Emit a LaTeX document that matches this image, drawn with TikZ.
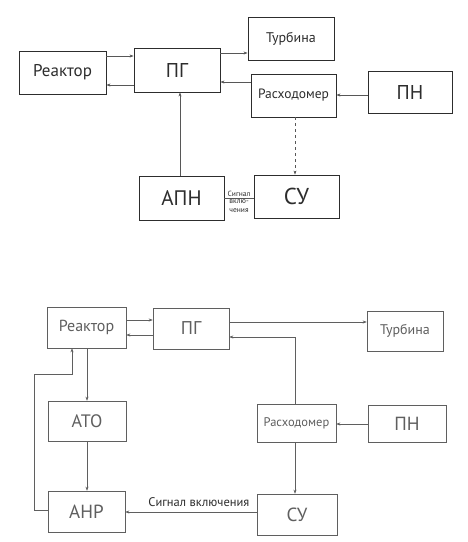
\documentclass[tikz,border=0pt]{standalone}
\usepackage{fontspec}
\setmainfont{PT Sans}
\usetikzlibrary{arrows.meta}
\definecolor{ink}{RGB}{45,45,45}
\definecolor{inkb}{RGB}{95,95,95}
\newcommand{\fs}[1]{\fontsize{#1}{#1}\selectfont}
\begin{document}
\begin{tikzpicture}[x=1pt,y=-1pt,
  blk/.style={draw=ink,line width=0.9pt,minimum width=#1,inner sep=0pt,text=ink},
  blkb/.style={draw=inkb,line width=0.6pt,minimum width=#1,inner sep=0pt,text=inkb},
  conn/.style={draw=ink!80,line width=0.5pt,-{Stealth[length=4pt,width=3pt]}},
  connb/.style={draw=inkb,line width=0.45pt,-{Stealth[length=4pt,width=3pt]}},
  plain/.style={draw=ink!80,line width=0.5pt}]
\useasboundingbox[fill=white] (0,0) rectangle (467,542);
% ---------- top diagram ----------
\node[blk=87pt,minimum height=43pt,font=\fs{17}] (R1) at (62.5,72.5) {Реактор};
\node[blk=86pt,minimum height=44pt,font=\fs{20}] (PG1) at (177,70) {ПГ};
\node[blk=86pt,minimum height=43pt,font=\fs{14}] (T1) at (291,38.5) {Турбина};
\node[blk=85pt,minimum height=43pt,font=\fs{13.5}] (Ras1) at (293.5,95.5) {Расходомер};
\node[blk=84pt,minimum height=42pt,font=\fs{20}] (PN1) at (410,92) {ПН};
\node[blk=85pt,minimum height=44pt,font=\fs{21}] (APN1) at (181.5,198) {АПН};
\node[blk=85pt,minimum height=43pt,font=\fs{23}] (SU1) at (296.5,196.5) {СУ};
\draw[conn] (R1.east |- 0,56) -- (PG1.west |- 0,56);
\draw[conn] (PG1.west |- 0,85) -- (R1.east |- 0,85);
\draw[conn] (PG1.east |- 0,53) -- (T1.west |- 0,53);
\draw[conn] (Ras1.west |- 0,82) -- (PG1.east |- 0,82);
\draw[conn] (PN1.west |- 0,95) -- (Ras1.east |- 0,95);
\draw[conn,dashed] (Ras1.south -| 295,0) -- (SU1.north -| 295,0);
\draw[conn] (APN1.north -| 180,0) -- (PG1.south -| 180,0);
\draw[plain] (APN1.east |- 0,198) -- (SU1.west |- 0,198)
  node[pos=0.5,above=0.3pt,inner sep=1pt,font=\fs{7.5},text=ink] {Сигнал}
  node[pos=0.5,below=0.5pt,inner sep=1pt,font=\fontsize{7.5}{9}\selectfont,text=ink,align=center] {вклю-\\чения};
% ---------- bottom diagram ----------
\node[blkb=79pt,minimum height=41pt,font=\fs{16}] (R2) at (86.5,327.5) {Реактор};
\node[blkb=76pt,minimum height=41pt,font=\fs{18.5}] (PG2) at (191,328.5) {ПГ};
\node[blkb=76pt,minimum height=40pt,font=\fs{14}] (T2) at (405,331) {Турбина};
\node[blkb=78pt,minimum height=40pt,font=\fs{18}] (ATO) at (87,421) {АТО};
\node[blkb=79pt,minimum height=38pt,font=\fs{12.5}] (Ras2) at (296.5,423) {Расходомер};
\node[blkb=78pt,minimum height=37pt,font=\fs{19}] (PN2) at (407,423.5) {ПН};
\node[blkb=77pt,minimum height=41pt,font=\fs{19}] (ANR) at (86.5,511.5) {АНР};
\node[blkb=80pt,minimum height=41pt,font=\fs{19}] (SU2) at (297,514.5) {СУ};
\draw[connb] (R2.east |- 0,320) -- (PG2.west |- 0,320);
\draw[connb] (PG2.west |- 0,335) -- (R2.east |- 0,335);
\draw[connb] (PG2.east |- 0,322) -- (T2.west |- 0,322);
\draw[connb] (Ras2.north -| 295,0) |- (PG2.east |- 0,337);
\draw[connb] (PN2.west |- 0,424) -- (Ras2.east |- 0,424);
\draw[connb] (Ras2.south -| 295,0) -- (SU2.north -| 295,0);
\draw[connb] (SU2.west |- 0,512) -- (ANR.east |- 0,512)
  node[pos=0.44,above=1.5pt,font=\fs{12.5},text=ink] {Сигнал включения};
\draw[connb] (R2.south -| 87,0) -- (ATO.north -| 87,0);
\draw[connb] (ATO.south -| 87,0) -- (ANR.north -| 87,0);
\draw[connb] (ANR.west |- 0,510) -- (34,510) -- (34,374) -- (72,374) -- (R2.south -| 72,0);
\end{tikzpicture}
\end{document}
